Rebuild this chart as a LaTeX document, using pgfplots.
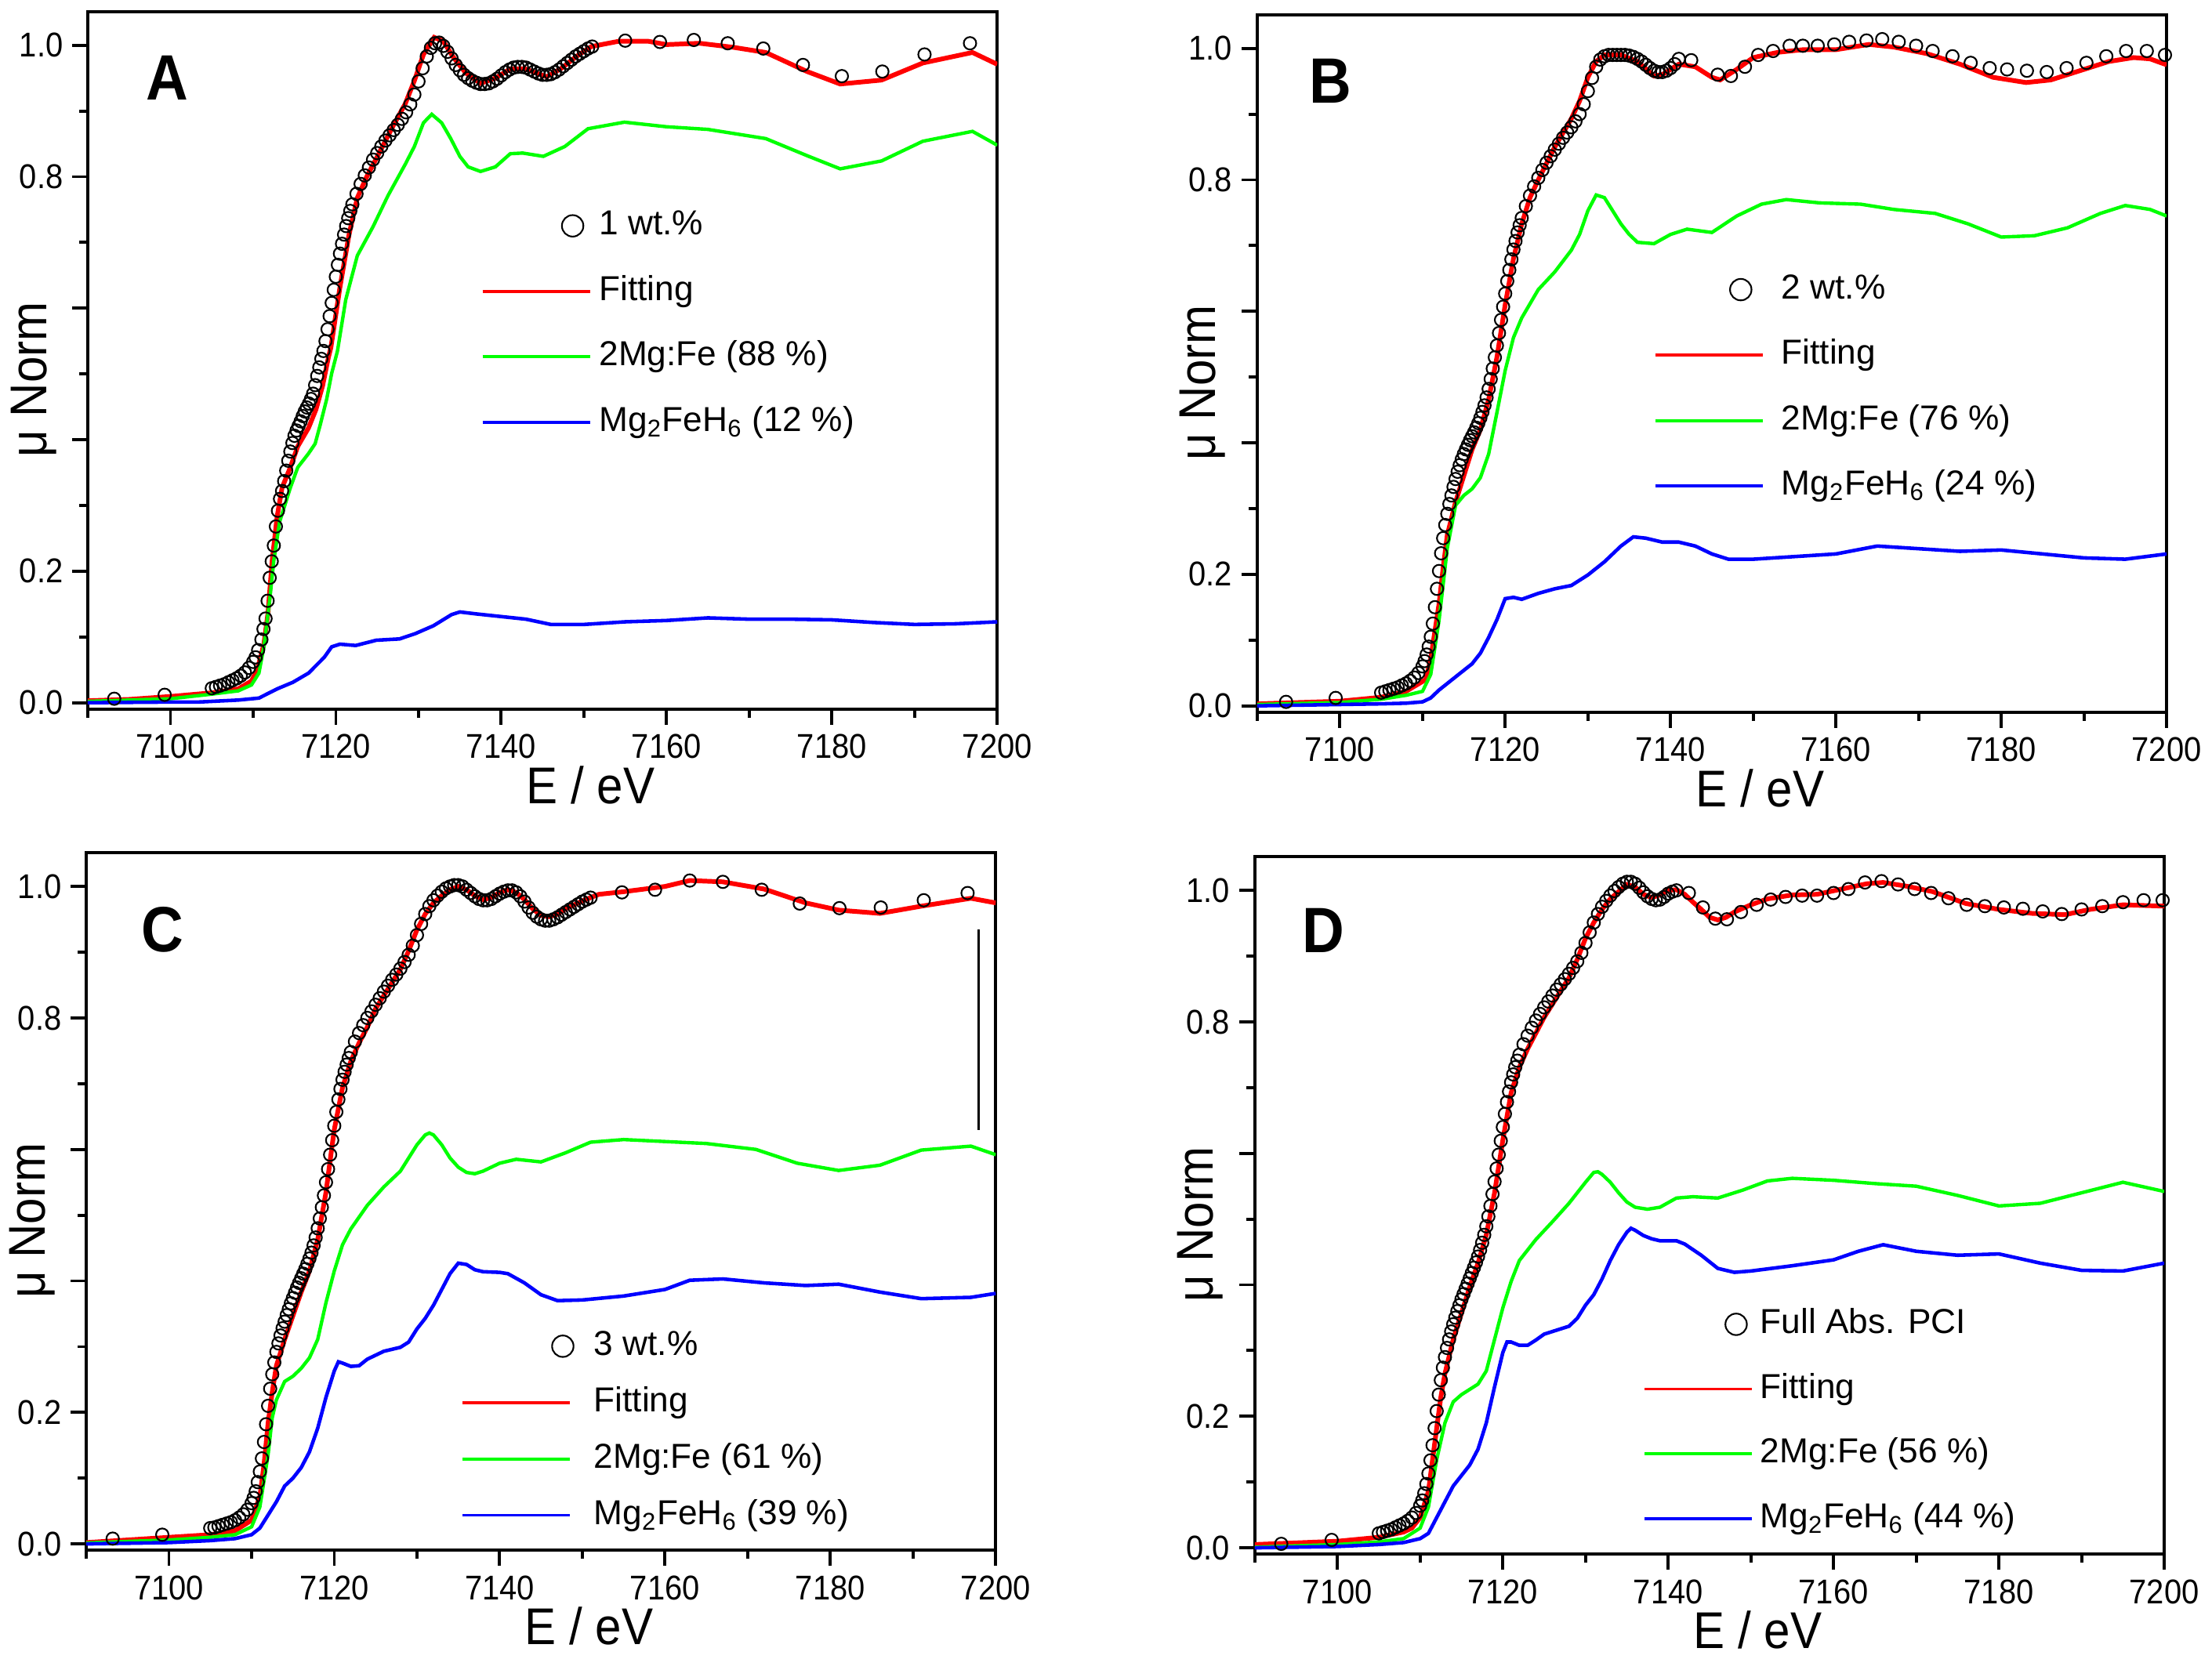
\documentclass[border=0pt]{standalone}
\usepackage{fontspec}
\setmainfont{Liberation Sans}[FakeStretch=0.91]
\newfontfamily\legfont{Liberation Sans}
\usepackage{pgfplots}
\pgfplotsset{compat=1.18}
\definecolor{cred}{RGB}{255,0,0}
\definecolor{cgreen}{RGB}{0,255,0}
\definecolor{cblue}{RGB}{0,0,255}
\def\legcirc{1.15cm}
\tikzset{letter/.style={anchor=base west, inner sep=0pt, font=\fontsize{23.3}{26}\selectfont\bfseries}}
\pgfplotsset{
  panel/.style={
    scale only axis, width=11.62cm, height=8.91cm,
    xmin=7090, xmax=7200, ymin=-0.0095, ymax=1.051,
    axis line style={line width=1.15pt},
    tick align=outside, tick pos=left,
    major tick length=0.2cm, minor tick length=0.11cm,
    every tick/.style={black, line width=1.1pt},
    xtick={7100,7120,7140,7160,7180,7200},
    xticklabels={7100,7120,7140,7160,7180,7200},
    minor xtick={7090,7110,7130,7150,7170,7190},
    ytick={0,0.2,0.4,0.6,0.8,1.0},
    yticklabels={0.0,0.2,,,0.8,1.0},
    minor ytick={0.1,0.3,0.5,0.7,0.9},
    tick label style={font=\fontsize{12.5}{14}\selectfont},
    xticklabel style={inner sep=0pt, yshift=-0.12cm},
    yticklabel style={inner sep=0pt, xshift=-0.11cm},
    xlabel={E / eV}, ylabel={μ Norm},
    label style={font=\fontsize{18.8}{21}\selectfont},
    xlabel style={at={(axis description cs:0.553,0)}, anchor=base, yshift=-1.21cm},
    ylabel style={at={(axis description cs:-0.0456,0.4725)}, anchor=base},
    legend cell align=left,
  },
  leg/.style n args={4}{legend style={at={(#1,#2)}, anchor=north west, draw=none, fill=none,
     inner sep=0pt, outer sep=0pt, row sep=#3, column sep=#4,
     font=\legfont\fontsize{12.6}{15}\selectfont,
     nodes={inner sep=0pt, text height=0.33cm, text depth=0.1cm}}},
  dat/.style={black, only marks, mark=o, mark size=2.27pt, mark options={black, line width=0.6pt},
     legend image code/.code={\path[draw=none] (0cm,0cm) -- (1.37cm,0cm);
       \draw[black, line width=1.2pt] plot[only marks, mark=o, mark size=3.9pt] coordinates {(\legcirc,0cm)};}},
  fitl/.style={cred, line width=1.7pt, no marks,
     legend image code/.code={\draw[cred, line width=1.1pt] (0cm,0cm) -- (1.37cm,0cm);}},
  grnl/.style={cgreen, line width=1.25pt, no marks,
     legend image code/.code={\draw[cgreen, line width=1.1pt] (0cm,0cm) -- (1.37cm,0cm);}},
  blul/.style={cblue, line width=1.3pt, no marks,
     legend image code/.code={\draw[cblue, line width=1.1pt] (0cm,0cm) -- (1.37cm,0cm);}},
}
\begin{document}
\begin{tikzpicture}
\path (0,0) rectangle (28.22,21.18);
% ---------------- A ----------------
\def\legcirc{1.15cm}
\begin{axis}[panel, at={(1.08cm,12.12cm)}, anchor=south west, leg={0.4325}{0.717}{0.407cm}{0.10cm}]
\addplot[dat] coordinates {
(7093.2,0.006) (7099.3,0.012)
(7105.0,0.022) (7105.5,0.024) (7106.0,0.026) (7106.5,0.028) (7107.0,0.031) (7107.5,0.034) (7108.0,0.037) (7108.5,0.041) (7109.0,0.046) (7109.5,0.053)
(7110.0,0.062) (7110.3,0.069) (7110.6,0.080) (7111.0,0.096) (7111.25,0.112) (7111.5,0.128) (7111.75,0.155) (7112.0,0.190) (7112.25,0.215) (7112.5,0.239) (7112.75,0.268)
(7113.0,0.292) (7113.25,0.310) (7113.5,0.322) (7113.75,0.337) (7114.0,0.353) (7114.25,0.368) (7114.5,0.382) (7114.75,0.395) (7115.0,0.406) (7115.25,0.414) (7115.5,0.421) (7115.75,0.428)
(7116.0,0.436) (7116.25,0.443) (7116.5,0.449) (7116.75,0.455) (7117.0,0.462) (7117.25,0.470) (7117.5,0.483) (7117.75,0.497) (7118.0,0.510) (7118.25,0.523) (7118.5,0.535) (7118.75,0.550)
(7119.0,0.568) (7119.25,0.588) (7119.5,0.608) (7119.75,0.628) (7120.0,0.648) (7120.25,0.666) (7120.5,0.683) (7120.75,0.698) (7121.0,0.712) (7121.25,0.725) (7121.5,0.737) (7121.75,0.748)
(7122.0,0.758) (7122.5,0.774) (7123.0,0.789) (7123.5,0.802) (7124.0,0.814) (7124.5,0.826) (7125.0,0.836) (7125.5,0.846) (7126.0,0.855) (7126.5,0.863) (7127.0,0.871) (7127.5,0.879)
(7128.0,0.888) (7128.5,0.898) (7129.0,0.910) (7129.5,0.925) (7130.0,0.945) (7130.5,0.965) (7131.0,0.983) (7131.5,0.996) (7132.0,1.003) (7132.5,1.004) (7133.0,0.999) (7133.5,0.990)
(7134.0,0.980) (7134.5,0.970) (7135.0,0.962) (7135.5,0.955) (7136.0,0.950) (7136.5,0.946) (7137.0,0.943) (7137.5,0.941) (7138.0,0.941) (7138.5,0.942) (7139.0,0.945) (7139.5,0.949)
(7140.0,0.954) (7140.5,0.959) (7141.0,0.963) (7141.5,0.966) (7142.0,0.967) (7142.5,0.967) (7143.0,0.966) (7143.5,0.963) (7144.0,0.960) (7144.5,0.957) (7145.0,0.955) (7145.5,0.955)
(7146.0,0.956) (7146.5,0.959) (7147.0,0.963) (7147.5,0.968) (7148.0,0.973) (7148.5,0.978) (7149.0,0.983) (7149.5,0.987) (7150.0,0.991) (7150.5,0.995) (7151.0,0.998)
(7155.0,1.007) (7159.2,1.005) (7163.3,1.008) (7167.4,1.003) (7171.7,0.995) (7176.5,0.970) (7181.2,0.953) (7186.1,0.960) (7191.2,0.986) (7196.7,1.003)
};
\addlegendentry{1 wt.\%}
\addplot[fitl] coordinates {
(7090,0.003) (7095,0.005) (7100,0.0095) (7105,0.015) (7108.2,0.021) (7109.8,0.033) (7110.5,0.05) (7111.3,0.089) (7111.8,0.137) (7112.3,0.216) (7112.9,0.283)
(7113.5,0.327) (7114.5,0.358) (7115.4,0.39) (7116.7,0.418) (7117.6,0.446) (7118.4,0.482) (7119.1,0.525) (7119.4,0.54) (7120.5,0.632) (7121.6,0.712) (7122.6,0.768)
(7123.7,0.799) (7125.2,0.835) (7127.0,0.879) (7128.4,0.911) (7129.5,0.946) (7130.6,0.986) (7131.9,1.012) (7133.0,1.006) (7134.2,0.982) (7135.7,0.958) (7137.5,0.942)
(7139.3,0.95) (7141.1,0.964) (7142.9,0.964) (7145.5,0.952) (7147.3,0.965) (7149.1,0.983) (7150.9,0.998) (7154.2,1.006) (7157.8,1.006) (7160,1.001) (7164,1.003)
(7168,0.997) (7172,0.989) (7177,0.96) (7181,0.941) (7186,0.947) (7191,0.973) (7197,0.989) (7200,0.971)
};
\addlegendentry{Fitting}
\addplot[grnl] coordinates {
(7090,0.002) (7100,0.006) (7105,0.013) (7108.2,0.018) (7109.8,0.027) (7110.7,0.045) (7111.3,0.085) (7112,0.156) (7112.5,0.216) (7113.2,0.275) (7114.5,0.327)
(7115.4,0.358) (7116.7,0.379) (7117.5,0.394) (7118.1,0.422) (7118.9,0.462) (7119.5,0.501) (7120.2,0.535) (7121.2,0.613) (7122.6,0.68) (7124.5,0.724) (7126.3,0.771)
(7128.4,0.819) (7129.5,0.846) (7130.6,0.882) (7131.6,0.895) (7132.8,0.882) (7133.9,0.858) (7135,0.831) (7136,0.815) (7137.5,0.808) (7139.3,0.815) (7141.1,0.835)
(7142.6,0.836) (7145.1,0.831) (7147.7,0.846) (7150.5,0.873) (7154.9,0.883) (7160,0.876) (7165,0.872) (7172,0.858) (7177,0.832) (7181,0.812) (7186,0.824)
(7191,0.854) (7197,0.869) (7200,0.848)
};
\addlegendentry{2Mg:Fe (88 \%)}
\addplot[blul] coordinates {
(7090,0.0) (7100,0.001) (7103.4,0.001) (7108.2,0.004) (7110.7,0.007) (7112.9,0.021) (7114.8,0.031) (7116.7,0.045) (7118.6,0.069) (7119.5,0.085) (7120.5,0.089)
(7122.4,0.087) (7124.9,0.095) (7127.7,0.097) (7129.6,0.105) (7131.8,0.117) (7134,0.134) (7135,0.138) (7137,0.135) (7140,0.131) (7143,0.127) (7146,0.119)
(7150,0.119) (7155,0.123) (7160,0.125) (7165,0.129) (7170,0.127) (7175,0.127) (7180,0.126) (7185,0.122) (7190,0.119) (7195,0.12) (7200,0.123)
};
\addlegendentry{Mg\textsubscript{2}FeH\textsubscript{6} (12 \%)}
\node[letter] at (rel axis cs:0.064,0.873) {A};
\end{axis}
% ---------------- B ----------------
\def\legcirc{1.09cm}
\begin{axis}[panel, at={(16.02cm,12.08cm)}, anchor=south west, leg={0.4363}{0.630}{0.407cm}{0.22cm}]
\addplot[dat] coordinates {
(7093.5,0.006) (7099.5,0.012)
(7105.0,0.020) (7105.5,0.022) (7106.0,0.024) (7106.5,0.026) (7107.0,0.028) (7107.5,0.031) (7108.0,0.034) (7108.5,0.038) (7109.0,0.043) (7109.5,0.050)
(7110.0,0.060) (7110.25,0.068) (7110.5,0.078) (7110.75,0.090) (7111.0,0.105) (7111.25,0.125) (7111.5,0.150) (7111.75,0.178) (7112.0,0.205) (7112.25,0.232) (7112.5,0.255) (7112.75,0.275)
(7113.0,0.292) (7113.25,0.307) (7113.5,0.320) (7113.75,0.333) (7114.0,0.345) (7114.25,0.356) (7114.5,0.366) (7114.75,0.375) (7115.0,0.383) (7115.25,0.390) (7115.5,0.397) (7115.75,0.404)
(7116.0,0.410) (7116.25,0.416) (7116.5,0.423) (7116.75,0.430) (7117.0,0.438) (7117.25,0.447) (7117.5,0.457) (7117.75,0.469) (7118.0,0.482) (7118.25,0.497) (7118.5,0.513) (7118.75,0.530)
(7119.0,0.548) (7119.25,0.567) (7119.5,0.587) (7119.75,0.607) (7120.0,0.627) (7120.25,0.646) (7120.5,0.663) (7120.75,0.679) (7121.0,0.694) (7121.25,0.707) (7121.5,0.720) (7121.75,0.731)
(7122.0,0.742) (7122.5,0.760) (7123.0,0.776) (7123.5,0.790) (7124.0,0.803) (7124.5,0.815) (7125.0,0.826) (7125.5,0.836) (7126.0,0.846) (7126.5,0.855) (7127.0,0.864) (7127.5,0.872)
(7128.0,0.880) (7128.5,0.889) (7129.0,0.900) (7129.5,0.915) (7130.0,0.935) (7130.5,0.955) (7131.0,0.972) (7131.5,0.983) (7132.0,0.988) (7132.5,0.990) (7133.0,0.990) (7133.5,0.990)
(7134.0,0.990) (7134.5,0.990) (7135.0,0.989) (7135.5,0.987) (7136.0,0.984) (7136.5,0.980) (7137.0,0.975) (7137.5,0.970) (7138.0,0.966) (7138.5,0.964) (7139.0,0.964) (7139.5,0.966)
(7140.0,0.970) (7140.5,0.976)
(7141,0.984) (7142.5,0.982) (7145.7,0.960) (7147.3,0.958) (7149,0.972) (7150.6,0.990) (7152.4,0.996) (7154.4,1.004) (7156,1.004) (7157.8,1.004)
(7159.8,1.006) (7161.6,1.010) (7163.7,1.012) (7165.6,1.014) (7167.6,1.010) (7169.7,1.004) (7171.7,0.996) (7174.1,0.988) (7176.3,0.978) (7178.6,0.970)
(7180.7,0.968) (7183.1,0.966) (7185.5,0.964) (7187.9,0.970) (7190.3,0.978) (7192.7,0.988) (7195.1,0.996) (7197.6,0.996) (7199.8,0.990)
};
\addlegendentry{2 wt.\%}
\addplot[fitl] coordinates {
(7090,0.003) (7100,0.007) (7105,0.013) (7108,0.022) (7110.4,0.04) (7111,0.072) (7112,0.155) (7112.5,0.21) (7113,0.26) (7114,0.31) (7115,0.35) (7116,0.39)
(7117,0.42) (7118,0.466) (7119,0.53) (7120,0.61) (7121,0.68) (7122,0.733) (7123,0.773) (7124,0.8) (7126,0.85) (7128,0.893) (7129,0.92) (7130,0.956)
(7131,0.98) (7132,0.99) (7134,0.99) (7136,0.98) (7138,0.958) (7139,0.96) (7141,0.976) (7143,0.972) (7145,0.956) (7146,0.952) (7148,0.968) (7150,0.986)
(7153,0.994) (7156,0.998) (7160,0.998) (7164,1.006) (7167,1.002) (7171,0.992) (7175,0.976) (7179,0.956) (7183,0.948) (7186,0.952) (7190,0.968) (7193,0.98)
(7196,0.986) (7198,0.984) (7200,0.975)
};
\addlegendentry{Fitting}
\addplot[grnl] coordinates {
(7090,0.002) (7100,0.005) (7105,0.01) (7108,0.016) (7110,0.022) (7111,0.048) (7112,0.13) (7113,0.24) (7114,0.305) (7115,0.32) (7116,0.33) (7117,0.347)
(7118,0.383) (7119,0.446) (7120,0.51) (7121,0.56) (7122,0.59) (7124,0.633) (7126,0.66) (7128,0.693) (7129,0.717) (7130,0.753) (7131,0.777) (7132,0.773)
(7133,0.753) (7134,0.733) (7135,0.717) (7136,0.705) (7138,0.703) (7140,0.717) (7142,0.725) (7145,0.72) (7148,0.745) (7151,0.763) (7154,0.77) (7158,0.765)
(7163,0.763) (7167,0.755) (7172,0.749) (7176,0.733) (7180,0.713) (7184,0.715) (7188,0.727) (7192,0.749) (7195,0.761) (7198,0.755) (7200,0.745)
};
\addlegendentry{2Mg:Fe (76 \%)}
\addplot[blul] coordinates {
(7090,0.0) (7100,0.002) (7105,0.003) (7108,0.004) (7110,0.006) (7111,0.012) (7112,0.024) (7114,0.044) (7116,0.064) (7117,0.08) (7118,0.104) (7119,0.131)
(7120,0.163) (7121,0.165) (7122,0.162) (7124,0.171) (7126,0.178) (7128,0.183) (7130,0.199) (7132,0.219) (7134,0.243) (7135.5,0.257) (7137,0.255) (7139,0.249)
(7141,0.249) (7143,0.243) (7145,0.231) (7147,0.223) (7150,0.223) (7155,0.227) (7160,0.231) (7165,0.243) (7170,0.239) (7175,0.235) (7180,0.237) (7185,0.231)
(7190,0.225) (7195,0.223) (7200,0.231)
};
\addlegendentry{Mg\textsubscript{2}FeH\textsubscript{6} (24 \%)}
\node[letter] at (rel axis cs:0.057,0.873) {B};
\end{axis}
% ---------------- C ----------------
\def\legcirc{1.28cm}
\begin{axis}[panel, at={(1.06cm,1.37cm)}, anchor=south west, leg={0.4122}{0.3166}{0.29cm}{0.26cm}]
\addplot[dat] coordinates {
(7093.2,0.008) (7099.2,0.014)
(7105.0,0.024) (7105.5,0.025) (7106.0,0.027) (7106.5,0.029) (7107.0,0.031) (7107.5,0.033) (7108.0,0.036) (7108.5,0.040) (7109.0,0.045) (7109.5,0.052)
(7110.0,0.062) (7110.25,0.070) (7110.5,0.080) (7110.75,0.094) (7111.0,0.110) (7111.25,0.130) (7111.5,0.155) (7111.75,0.182) (7112.0,0.210) (7112.25,0.236) (7112.5,0.258) (7112.75,0.276)
(7113.0,0.292) (7113.25,0.305) (7113.5,0.317) (7113.75,0.328) (7114.0,0.338) (7114.25,0.348) (7114.5,0.357) (7114.75,0.366) (7115.0,0.374) (7115.25,0.382) (7115.5,0.390) (7115.75,0.397)
(7116.0,0.404) (7116.25,0.411) (7116.5,0.418) (7116.75,0.426) (7117.0,0.434) (7117.25,0.443) (7117.5,0.454) (7117.75,0.466) (7118.0,0.480) (7118.25,0.495) (7118.5,0.512) (7118.75,0.530)
(7119.0,0.550) (7119.25,0.570) (7119.5,0.592) (7119.75,0.614) (7120.0,0.636) (7120.25,0.657) (7120.5,0.676) (7120.75,0.692) (7121.0,0.706) (7121.25,0.718) (7121.5,0.729) (7121.75,0.739)
(7122.0,0.748) (7122.5,0.764) (7123.0,0.777) (7123.5,0.789) (7124.0,0.800) (7124.5,0.810) (7125.0,0.820) (7125.5,0.830) (7126.0,0.840) (7126.5,0.849) (7127.0,0.858) (7127.5,0.866)
(7128.0,0.875) (7128.5,0.885) (7129.0,0.896) (7129.5,0.910) (7130.0,0.926) (7130.5,0.943) (7131.0,0.958) (7131.5,0.970) (7132.0,0.979) (7132.5,0.986) (7133.0,0.992) (7133.5,0.997)
(7134.0,1.000) (7134.5,1.002) (7135.0,1.002) (7135.5,1.000) (7136.0,0.995) (7136.5,0.990) (7137.0,0.985) (7137.5,0.981) (7138.0,0.979) (7138.5,0.979) (7139.0,0.981) (7139.5,0.985)
(7140.0,0.989) (7140.5,0.992) (7141.0,0.994) (7141.5,0.994) (7142.0,0.991) (7142.5,0.985) (7143.0,0.977) (7143.5,0.968) (7144.0,0.960) (7144.5,0.954) (7145.0,0.950) (7145.5,0.948)
(7146.0,0.948) (7146.5,0.950) (7147.0,0.953) (7147.5,0.957) (7148.0,0.961) (7148.5,0.965) (7149.0,0.969) (7149.5,0.973) (7150.0,0.977) (7150.5,0.980) (7151.0,0.983)
(7154.8,0.991) (7158.8,0.995) (7163,1.009) (7167,1.007) (7171.7,0.995) (7176.3,0.974) (7181.1,0.967) (7186.1,0.968) (7191.3,0.979) (7196.6,0.990)
};
\addlegendentry{3 wt.\%}
\addplot[fitl] coordinates {
(7090,0.002) (7100,0.01) (7105,0.014) (7108,0.02) (7110,0.036) (7111,0.072) (7111.5,0.12) (7112,0.184) (7112.5,0.231) (7113,0.271) (7114,0.311) (7115,0.347)
(7116,0.383) (7117,0.415) (7118,0.463) (7119,0.535) (7119.5,0.583) (7120,0.63) (7121,0.694) (7122,0.734) (7123,0.762) (7124,0.786) (7125,0.814) (7126,0.834)
(7127,0.854) (7128,0.874) (7129,0.902) (7130,0.934) (7131,0.958) (7132,0.975) (7133,0.986) (7134,0.995) (7135,1.0) (7136,0.995) (7137,0.986) (7138,0.98)
(7139,0.983) (7140,0.991) (7141,0.995) (7142,0.991) (7143,0.98) (7144,0.966) (7145,0.956) (7146,0.954) (7147,0.958) (7148,0.966) (7150,0.978) (7152,0.988)
(7155,0.992) (7160,1.0) (7163,1.009) (7167,1.007) (7172,0.996) (7177,0.975) (7181,0.964) (7186,0.959) (7191,0.97) (7197,0.982) (7200,0.975)
};
\addlegendentry{Fitting}
\addplot[grnl] coordinates {
(7090,0.0015) (7100,0.006) (7105,0.01) (7108,0.014) (7110,0.026) (7111,0.056) (7112,0.136) (7112.5,0.192) (7113,0.219) (7114,0.247) (7115,0.255) (7116,0.267)
(7117,0.283) (7118,0.311) (7119,0.367) (7120,0.415) (7121,0.455) (7122,0.479) (7124,0.515) (7126,0.543) (7128,0.567) (7129,0.587) (7130,0.607) (7131,0.622)
(7131.5,0.625) (7132,0.622) (7133,0.607) (7134,0.587) (7135,0.573) (7136,0.565) (7137,0.563) (7138,0.567) (7140,0.579) (7142,0.585) (7145,0.581) (7148,0.595)
(7151,0.611) (7155,0.615) (7160,0.612) (7165,0.609) (7171,0.6) (7176,0.579) (7181,0.568) (7186,0.576) (7191,0.599) (7197,0.605) (7200,0.592)
};
\addlegendentry{2Mg:Fe (61 \%)}
\addplot[blul] coordinates {
(7090,0.0) (7100,0.002) (7105,0.005) (7108,0.008) (7110,0.014) (7111,0.024) (7112,0.044) (7113,0.064) (7114,0.088) (7115,0.1) (7116,0.116) (7117,0.14)
(7118,0.176) (7119,0.223) (7120,0.263) (7120.5,0.277) (7121,0.275) (7122,0.27) (7123,0.271) (7124,0.281) (7125,0.287) (7126,0.293) (7128,0.299) (7129,0.307)
(7130,0.327) (7131,0.343) (7132,0.363) (7133,0.387) (7134,0.411) (7135,0.427) (7136,0.425) (7137,0.417) (7138,0.414) (7140,0.413) (7141,0.411) (7143,0.397)
(7145,0.379) (7147,0.37) (7150,0.371) (7155,0.377) (7160,0.387) (7163,0.401) (7167,0.403) (7172,0.397) (7177,0.393) (7181,0.395) (7186,0.383) (7191,0.373)
(7197,0.375) (7200,0.381)
};
\addlegendentry{Mg\textsubscript{2}FeH\textsubscript{6} (39 \%)}
\addplot[black, line width=0.9pt, no marks, forget plot] coordinates {(7197.9,0.63) (7197.9,0.935)};
\node[letter] at (rel axis cs:0.060,0.858) {C};
\end{axis}
% ---------------- D ----------------
\def\legcirc{1.17cm}
\begin{axis}[panel, at={(15.99cm,1.32cm)}, anchor=south west, leg={0.4269}{0.3536}{0.397cm}{0.09cm}]
\addplot[dat] coordinates {
(7093.2,0.006) (7099.3,0.012)
(7105.0,0.022) (7105.5,0.024) (7106.0,0.026) (7106.5,0.028) (7107.0,0.031) (7107.5,0.034) (7108.0,0.037) (7108.5,0.041) (7109.0,0.046) (7109.5,0.053)
(7110.0,0.064) (7110.25,0.072) (7110.5,0.083) (7110.75,0.097) (7111.0,0.113) (7111.25,0.133) (7111.5,0.156) (7111.75,0.182) (7112.0,0.208) (7112.25,0.233) (7112.5,0.255) (7112.75,0.274)
(7113.0,0.290) (7113.25,0.304) (7113.5,0.317) (7113.75,0.329) (7114.0,0.340) (7114.25,0.350) (7114.5,0.360) (7114.75,0.369) (7115.0,0.378) (7115.25,0.386) (7115.5,0.394) (7115.75,0.402)
(7116.0,0.410) (7116.25,0.418) (7116.5,0.426) (7116.75,0.434) (7117.0,0.443) (7117.25,0.453) (7117.5,0.464) (7117.75,0.476) (7118.0,0.489) (7118.25,0.504) (7118.5,0.520) (7118.75,0.538)
(7119.0,0.557) (7119.25,0.577) (7119.5,0.598) (7119.75,0.619) (7120.0,0.640) (7120.25,0.660) (7120.5,0.678) (7120.75,0.694) (7121.0,0.708) (7121.25,0.720) (7121.5,0.731) (7121.75,0.741)
(7122.0,0.750) (7122.5,0.766) (7123.0,0.779) (7123.5,0.791) (7124.0,0.802) (7124.5,0.812) (7125.0,0.822) (7125.5,0.831) (7126.0,0.840) (7126.5,0.849) (7127.0,0.857) (7127.5,0.865)
(7128.0,0.873) (7128.5,0.882) (7129.0,0.892) (7129.5,0.905) (7130.0,0.920) (7130.5,0.936) (7131.0,0.951) (7131.5,0.964) (7132.0,0.975) (7132.5,0.984) (7133.0,0.992) (7133.5,0.999)
(7134.0,1.005) (7134.5,1.010) (7135.0,1.013) (7135.5,1.013) (7136.0,1.010) (7136.5,1.004) (7137.0,0.997) (7137.5,0.991) (7138.0,0.987) (7138.5,0.985) (7139.0,0.986) (7139.5,0.990)
(7140.0,0.995) (7140.5,0.998) (7141.0,1.000)
(7142.5,0.996) (7144.2,0.974) (7145.7,0.957) (7147.1,0.956) (7148.8,0.967) (7150.7,0.978) (7152.4,0.986) (7154.2,0.990) (7156.2,0.992) (7158,0.992)
(7160,0.996) (7161.8,1.002) (7163.8,1.012) (7165.8,1.014) (7167.8,1.009) (7169.8,1.002) (7171.8,0.996) (7173.9,0.988) (7176.1,0.978) (7178.3,0.976)
(7180.6,0.974) (7182.9,0.972) (7185.3,0.968) (7187.6,0.964) (7190,0.971) (7192.5,0.976) (7195,0.982) (7197.5,0.985) (7199.8,0.985)
};
\addlegendentry{Full Abs. PCI}
\addplot[fitl] coordinates {
(7090,0.005) (7100,0.01) (7105,0.016) (7108,0.024) (7109,0.03) (7110,0.046) (7111,0.086) (7111.5,0.134) (7112,0.182) (7112.5,0.229) (7113,0.265) (7114,0.317)
(7115,0.357) (7116,0.397) (7117,0.433) (7118,0.476) (7119,0.54) (7120,0.62) (7121,0.692) (7122,0.731) (7123,0.759) (7124,0.783) (7125,0.807) (7126,0.827)
(7127,0.847) (7128,0.867) (7129,0.895) (7130,0.927) (7131,0.951) (7132,0.971) (7133,0.987) (7134,0.998) (7135,1.009) (7136,1.005) (7137,0.994) (7138,0.989)
(7139,0.993) (7140,1.0) (7141,1.001) (7142,0.994) (7143,0.982) (7144,0.971) (7145,0.959) (7146,0.955) (7147,0.959) (7148,0.967) (7150,0.978) (7152,0.987)
(7155,0.993) (7158,0.994) (7161,1.002) (7164,1.01) (7166,1.012) (7169,1.006) (7172,0.998) (7176,0.98) (7180,0.971) (7184,0.965) (7188,0.963) (7191,0.971)
(7195,0.978) (7200,0.976)
};
\addlegendentry{Fitting}
\addplot[grnl] coordinates {
(7090,0.001) (7100,0.005) (7105,0.009) (7108,0.014) (7110,0.03) (7111,0.062) (7112,0.134) (7113,0.19) (7114,0.222) (7115,0.233) (7116,0.241) (7117,0.249)
(7118,0.269) (7119,0.317) (7120,0.365) (7121,0.405) (7122,0.437) (7124,0.469) (7126,0.496) (7128,0.524) (7129,0.54) (7130,0.556) (7131,0.571) (7131.5,0.572)
(7132,0.568) (7133,0.556) (7134,0.54) (7135,0.526) (7136,0.518) (7137.5,0.515) (7139,0.518) (7141,0.532) (7143,0.534) (7146,0.532) (7149,0.544) (7152,0.558)
(7155,0.562) (7160,0.559) (7165,0.554) (7170,0.55) (7175,0.536) (7180,0.52) (7185,0.524) (7190,0.54) (7195,0.556) (7200,0.542)
};
\addlegendentry{2Mg:Fe (56 \%)}
\addplot[blul] coordinates {
(7090,0.0) (7100,0.002) (7105,0.005) (7108,0.008) (7110,0.014) (7111,0.022) (7112,0.046) (7113,0.07) (7114,0.094) (7115,0.11) (7116,0.126) (7117,0.15)
(7118,0.19) (7119,0.245) (7120,0.297) (7120.5,0.313) (7121,0.313) (7122,0.308) (7123,0.308) (7124,0.316) (7125,0.325) (7126,0.329) (7128,0.337) (7129,0.349)
(7130,0.369) (7131,0.385) (7132,0.409) (7133,0.437) (7134,0.461) (7135,0.48) (7135.5,0.486) (7136,0.483) (7137,0.475) (7138,0.47) (7139,0.467) (7141,0.467)
(7142,0.462) (7144,0.445) (7146,0.425) (7148,0.419) (7150,0.421) (7155,0.429) (7160,0.438) (7163,0.451) (7166,0.461) (7170,0.451) (7175,0.445) (7180,0.447)
(7185,0.433) (7190,0.422) (7195,0.421) (7200,0.433)
};
\addlegendentry{Mg\textsubscript{2}FeH\textsubscript{6} (44 \%)}
\node[letter] at (rel axis cs:0.052,0.863) {D};
\end{axis}
\end{tikzpicture}
\end{document}
